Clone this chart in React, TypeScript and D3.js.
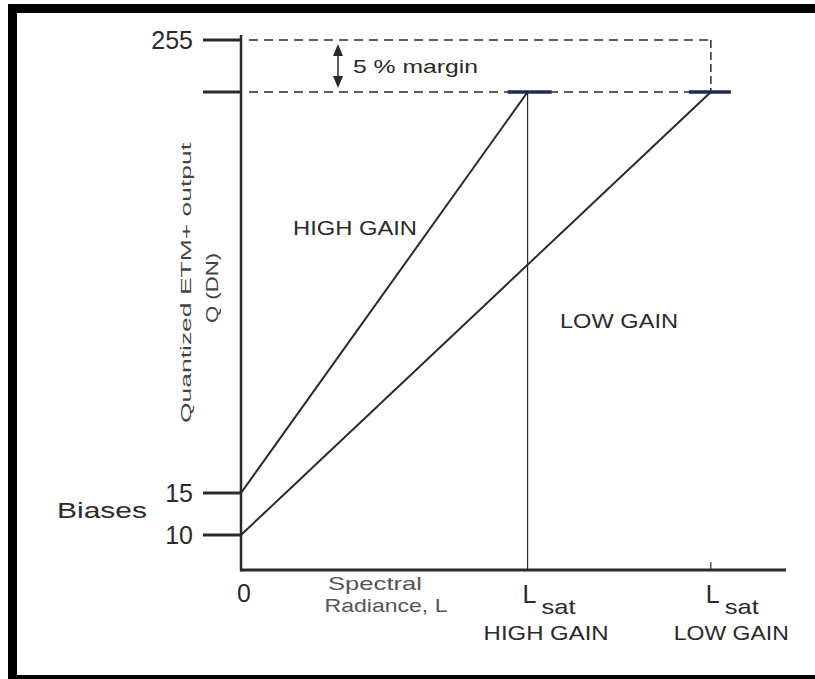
import React from "react";
import * as d3 from "d3";

// ---- data (schematic DN vs radiance) ----
const dnLevels = [0, 10, 15, 242, 255];
const dnTickValues = [255, 242, 15, 10];
const dnTickLabels = ["255", "", "15", "10"];
const maxDN = 255;
const satDN = 242; // 95% of 255 (5% margin)
const gainNames = ["HIGH GAIN", "LOW GAIN"];
const gainBiases = [15, 10];
const gainLsat = [61, 100];
const radianceMax = 116;

const W = 815;
const H = 679;
const FONT = "'Liberation Sans', Arial, Helvetica, sans-serif";
const INK = "#2a2a2a";

export default function App() {
  const y = d3.scaleLinear().domain(dnLevels).range([570, 535, 493, 92, 40]);
  const x = d3.scaleLinear().domain([0, radianceMax]).range([241, 786]);
  const line = d3
    .line<[number, number]>()
    .x((d) => x(d[0]))
    .y((d) => y(d[1]));

  const x0 = x(0);
  const yAxisBottom = y(0);

  return (
    <div style={{ position: "absolute", left: 0, top: 0 }}>
      <svg width={W} height={H} style={{ display: "block", background: "#fff" }}>
        {/* frame (partly cropped, as in the scan) */}
        <rect x={0} y={0} width={W} height={H} fill="#fff" />
        <rect x={8} y={4} width={W - 8} height={9} fill="#000" />
        <rect x={8} y={4} width={9} height={H - 4} fill="#000" />
        <rect x={8} y={675} width={W - 8} height={4} fill="#000" />

        {/* dashed reference lines */}
        <line
          x1={x0 + 8}
          x2={x(gainLsat[1])}
          y1={y(maxDN)}
          y2={y(maxDN)}
          stroke={INK}
          strokeWidth={1.5}
          strokeDasharray="9 6"
        />
        <line
          x1={x0 + 8}
          x2={x(gainLsat[1])}
          y1={y(satDN)}
          y2={y(satDN)}
          stroke={INK}
          strokeWidth={1.5}
          strokeDasharray="9 6"
        />
        <line
          x1={x(gainLsat[1])}
          x2={x(gainLsat[1])}
          y1={y(maxDN)}
          y2={y(satDN)}
          stroke={INK}
          strokeWidth={1.5}
          strokeDasharray="8 4"
        />

        {/* saturation caps */}
        {gainLsat.map((l, i) => (
          <line
            key={"cap" + i}
            x1={x(l) - (i === 0 ? 20 : 22)}
            x2={x(l) + (i === 0 ? 24 : 20)}
            y1={y(satDN)}
            y2={y(satDN)}
            stroke="#1f2a55"
            strokeWidth={3.5}
          />
        ))}

        {/* high gain saturation vertical */}
        <line
          x1={x(gainLsat[0])}
          x2={x(gainLsat[0])}
          y1={y(satDN)}
          y2={yAxisBottom}
          stroke={INK}
          strokeWidth={1.2}
        />
        {/* low gain tick at axis */}
        <line
          x1={x(gainLsat[1])}
          x2={x(gainLsat[1])}
          y1={yAxisBottom - 8}
          y2={yAxisBottom}
          stroke={INK}
          strokeWidth={1.2}
        />

        {/* gain lines */}
        {gainBiases.map((b, i) => (
          <path
            key={"g" + i}
            d={line([
              [0, b],
              [gainLsat[i], satDN],
            ]) || ""}
            fill="none"
            stroke={INK}
            strokeWidth={2}
          />
        ))}

        {/* axes */}
        <line x1={x0} x2={x0} y1={35} y2={yAxisBottom + 1.5} stroke={INK} strokeWidth={2.5} />
        <line x1={x0} x2={x(radianceMax)} y1={yAxisBottom} y2={yAxisBottom} stroke={INK} strokeWidth={3} />

        {/* y ticks and labels */}
        {dnTickValues.map((v, i) => (
          <g key={"t" + i}>
            <line x1={203} x2={x0} y1={y(v)} y2={y(v)} stroke={INK} strokeWidth={3} />
            {dnTickLabels[i] && (
              <text
                x={193}
                y={y(v) + 9}
                textAnchor="end"
                fontFamily={FONT}
                fontSize={25}
                fill={INK}
              >
                {dnTickLabels[i]}
              </text>
            )}
          </g>
        ))}
        <text x={57} y={518} fontFamily={FONT} fontSize={22} fill={INK} textLength={90} lengthAdjust="spacingAndGlyphs">
          Biases
        </text>

        {/* margin arrow */}
        <line x1={338} x2={338} y1={y(maxDN) + 8} y2={y(satDN) - 8} stroke={INK} strokeWidth={1.5} />
        <path d={`M333,${y(maxDN) + 16} L338,${y(maxDN) + 4} L343,${y(maxDN) + 16} Z`} fill={INK} />
        <path d={`M333,${y(satDN) - 16} L338,${y(satDN) - 4} L343,${y(satDN) - 16} Z`} fill={INK} />
        <text x={353} y={73} fontFamily={FONT} fontSize={18} fill={INK} textLength={125} lengthAdjust="spacingAndGlyphs">
          5 % margin
        </text>

        {/* y axis title */}
        <text
          transform={`translate(191,283) rotate(-90)`}
          textAnchor="middle"
          fontFamily={FONT}
          fontSize={15}
          fill="#444"
          textLength={280}
          lengthAdjust="spacingAndGlyphs"
        >
          Quantized ETM+ output
        </text>
        <text
          transform={`translate(218,288) rotate(-90)`}
          textAnchor="middle"
          fontFamily={FONT}
          fontSize={16}
          fill="#444"
          textLength={70}
          lengthAdjust="spacingAndGlyphs"
        >
          Q (DN)
        </text>

        {/* region labels */}
        <text x={293} y={235} fontFamily={FONT} fontSize={20} fill={INK} textLength={124} lengthAdjust="spacingAndGlyphs">
          {gainNames[0]}
        </text>
        <text x={560} y={328} fontFamily={FONT} fontSize={20} fill={INK} textLength={118} lengthAdjust="spacingAndGlyphs">
          {gainNames[1]}
        </text>

        {/* x labels */}
        <text x={x0 + 3} y={602} textAnchor="middle" fontFamily={FONT} fontSize={25} fill={INK}>
          0
        </text>
        <text x={375} y={590} textAnchor="middle" fontFamily={FONT} fontSize={19} fill="#555" textLength={94} lengthAdjust="spacingAndGlyphs">
          Spectral
        </text>
        <text x={386} y={612} textAnchor="middle" fontFamily={FONT} fontSize={19} fill="#555" textLength={123} lengthAdjust="spacingAndGlyphs">
          Radiance, L
        </text>
        {gainLsat.map((l, i) => {
          const cx = x(l);
          return (
            <g key={"ls" + i}>
              <text x={cx - 5} y={603} fontFamily={FONT} fontSize={25} fill={INK}>
                L
              </text>
              <text x={cx + 14} y={614} fontFamily={FONT} fontSize={21} fill={INK} textLength={34} lengthAdjust="spacingAndGlyphs">
                sat
              </text>
              <text
                x={i === 0 ? cx - 44 : cx - 37}
                y={640}
                fontFamily={FONT}
                fontSize={20}
                fill={INK}
                textLength={i === 0 ? 125 : 115}
                lengthAdjust="spacingAndGlyphs"
              >
                {gainNames[i]}
              </text>
            </g>
          );
        })}
      </svg>
    </div>
  );
}
